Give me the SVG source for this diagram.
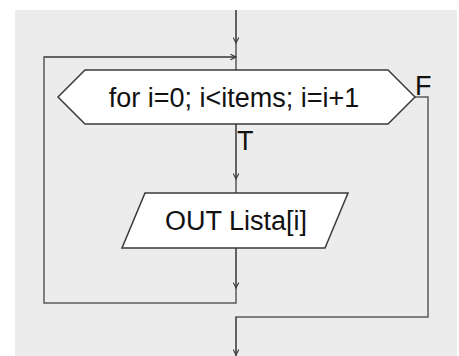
<svg xmlns="http://www.w3.org/2000/svg" width="459" height="356" viewBox="0 0 459 356">
  <style>
    .shape { fill: #ffffff; stroke: #3a3a3a; stroke-width: 1.5; }
    .wire { fill: none; stroke: #5a5a5a; stroke-width: 1.5; }
    .label { font-family: "Liberation Sans", Arial, sans-serif; font-size: 27px; fill: #111111; }
  </style>
  <defs>
    <marker id="arrow" viewBox="0 0 10 10" refX="9" refY="5" markerWidth="7" markerHeight="7" markerUnits="userSpaceOnUse" orient="auto">
      <path d="M1,1 L9,5 L1,9" fill="none" stroke="#3a3a3a" stroke-width="1.6"/>
    </marker>
  </defs>

  <rect x="0" y="0" width="459" height="356" fill="#ffffff"/>
  <rect x="15" y="10" width="442" height="346" fill="#ececec"/>

  <g id="connectors">
    <!-- entry into loop head -->
    <path class="wire" d="M236,10 V70"/>
    <path class="wire" d="M236,10 V43" marker-end="url(#arrow)"/>
    <!-- back edge of loop -->
    <path class="wire" d="M236,248 V303 H44 V57 H236"/>
    <path class="wire" d="M44,57 H236" marker-end="url(#arrow)"/>
    <path class="wire" d="M236,248 V288" marker-end="url(#arrow)"/>
    <!-- true branch -->
    <path class="wire" d="M236,124 V193"/>
    <path class="wire" d="M236,124 V179" marker-end="url(#arrow)"/>
    <!-- false branch / exit -->
    <path class="wire" d="M415,97 H428 V317 H236 V356"/>
    <path class="wire" d="M236,317 V355" marker-end="url(#arrow)"/>
    <text class="label" x="237" y="150">T</text>
    <text class="label" x="415" y="95">F</text>
  </g>

  <g id="loop-head">
    <polygon class="shape" points="58,97 85,70 388,70 415,97 388,124 85,124"/>
    <text class="label" x="234" y="107" text-anchor="middle">for i=0; i&lt;items; i=i+1</text>
  </g>

  <g id="output">
    <polygon class="shape" points="145,193 348,193 325,248 122,248"/>
    <text class="label" x="236" y="230" text-anchor="middle">OUT Lista[i]</text>
  </g>
</svg>
